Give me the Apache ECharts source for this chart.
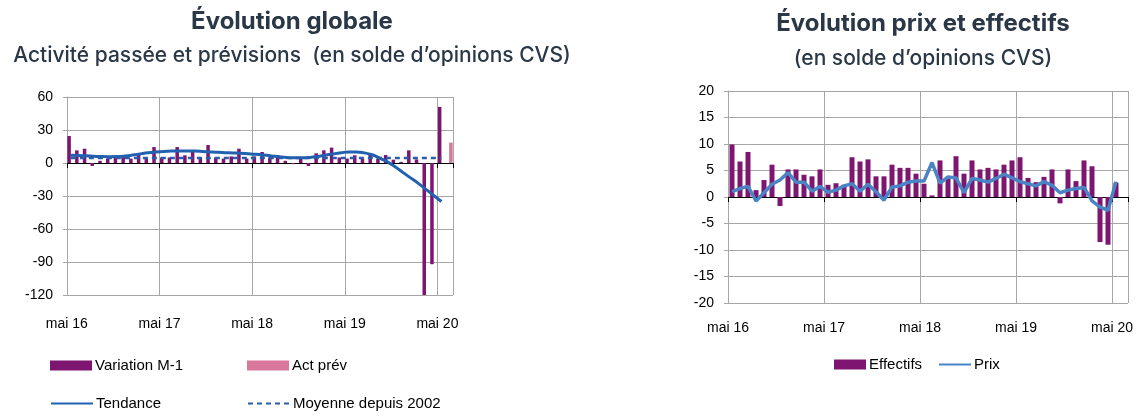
<!DOCTYPE html>
<html>
<head>
<meta charset="utf-8">
<script src="https://cdn.jsdelivr.net/npm/echarts@6/dist/echarts.min.js"></script>
<style>
  html, body { margin: 0; padding: 0; background: #fff; }
  #chart { width: 1140px; height: 416px; }
</style>
</head>
<body>
<div id="chart"></div>
<script>
  // mois de mai 2016 à juin 2020
  const months = [
    'mai 16', 'juin 16', 'juil 16', 'août 16', 'sept 16', 'oct 16', 'nov 16', 'déc 16',
    'janv 17', 'févr 17', 'mars 17', 'avr 17', 'mai 17', 'juin 17', 'juil 17', 'août 17',
    'sept 17', 'oct 17', 'nov 17', 'déc 17', 'janv 18', 'févr 18', 'mars 18', 'avr 18',
    'mai 18', 'juin 18', 'juil 18', 'août 18', 'sept 18', 'oct 18', 'nov 18', 'déc 18',
    'janv 19', 'févr 19', 'mars 19', 'avr 19', 'mai 19', 'juin 19', 'juil 19', 'août 19',
    'sept 19', 'oct 19', 'nov 19', 'déc 19', 'janv 20', 'févr 20', 'mars 20', 'avr 20',
    'mai 20', 'juin 20'
  ]

  // Évolution globale
  const variationM1 = [
    24.5, 11.5, 13, -2.7, 2, 4, 5, 6, 4, 9, 5, 14.5, 5, 5, 14.5, 7, 10, 5, 16.4, 5,
    4, 6, 13, 4, 6, 10, 5, 7.3, 2, -1, 4, -2.7, 8.8, 11.5, 14, 5, 4, 7, 4, 8.8,
    4, 7.3, 3, 1, 11.5, 3.3, -122, -92, 51
  ]
  const actPrevMonth = 'juin 20'
  const actPrevValue = 18.5
  const tendance = [
    7, 6.8, 6.5, 6.1, 5.8, 5.7, 5.8, 6.3, 7.2, 8.3, 9.3, 10, 10.5, 10.8, 10.9, 10.9, 10.8,
    10.5, 10.1, 9.7, 9.4, 9.1, 8.8, 8.4, 7.9, 7.2, 6.4, 5.6, 5, 4.7, 4.7, 5.1, 6, 7.1,
    8.3, 9.3, 10, 10, 9.2, 7.5, 4.5, 1, -3.5, -8.5, -13.5, -18.5, -24, -29.5, -35
  ]
  const moyenne2002 = [
    4.5, 4.5, 4.5, 4.5, 4.5, 4.5, 4.5, 4.5, 4.5, 4.5, 4.5, 4.5, 4.5, 4.5, 4.5, 4.5, 4.5,
    4.5, 4.5, 4.5, 4.5, 4.5, 4.5, 4.5, 4.5, 4.5, 4.5, 4.5, 4.5, 4.5, 4.5, 4.5, 4.5, 4.5,
    4.5, 4.5, 4.5, 4.5, 4.5, 4.5, 4.5, 4.5, 4.5, 4.5, 4.5, 4.5, 4.5, 4.5, 4.5
  ]
  const ticksGlobale = [-120, -90, -60, -30, 0, 30, 60]

  // Évolution prix et effectifs
  const effectifs = [
    9.9, 6.7, 8.5, 1.3, 3.2, 6.1, -1.7, 5.2, 5.2, 4.2, 3.9, 5.2, 2.3, 2.6, 2.3, 7.5, 6.7,
    7.1, 3.9, 3.9, 6.1, 5.5, 5.5, 4.4, 2.5, 0.3, 6.9, 3.5, 7.7, 4.4, 6.9, 5.2, 5.5, 5.2,
    6.1, 6.9, 7.5, 3.6, 2.8, 3.8, 5.2, -1.2, 5.2, 3, 6.9, 5.8, -8.5, -9, 2.7
  ]
  const prix = [
    1, 1.6, 2, -0.75, 0.8, 2.4, 3.2, 4.6, 2.8, 2.8, 1.1, 2, 0.9, 1.3, 2.1, 2.5, 1.1,
    2.4, 1, -0.6, 1.9, 2.1, 2.8, 3, 3, 6.5, 2.6, 3.8, 3.6, 0.8, 3.5, 3.2, 2.8, 3.5,
    4.3, 3.6, 2.9, 2.5, 2.1, 2.9, 2.2, 0.8, 1.3, 1.6, 1.8, -0.75, -1.9, -2.5, 2.9
  ]
  const ticksPrix = [-20, -15, -10, -5, 0, 5, 10, 15, 20]

  const purple = '#7d1571'
  const pink = '#d8779b'
  const gridGray = '#a6a6a6'
  const axisFont = 'Liberation Sans'
  const titleColor = '#2a3747'

  const yearTick = function (i) { return i % 12 === 0 }

  function labelAxis (gridIndex, margin) {
    return {
      gridIndex: gridIndex,
      type: 'category',
      data: months,
      position: 'bottom',
      axisLine: { show: false, onZero: false },
      axisTick: { show: false },
      axisLabel: {
        interval: 11, margin: margin, padding: [0, 8, 0, 0],
        fontFamily: axisFont, fontSize: 14, color: '#000'
      },
      splitLine: { show: true, interval: yearTick, lineStyle: { color: gridGray, width: 1 } }
    }
  }
  function zeroAxis (gridIndex) {
    return {
      gridIndex: gridIndex,
      type: 'category',
      data: months,
      position: 'bottom',
      axisLine: { show: true, onZero: true, lineStyle: { color: '#000', width: 1 } },
      axisTick: { show: true, interval: yearTick, length: 5, lineStyle: { color: '#000' } },
      axisLabel: { show: false },
      splitLine: { show: false }
    }
  }
  function valueAxis (gridIndex, ticks) {
    return {
      gridIndex: gridIndex,
      type: 'value',
      min: ticks[0],
      max: ticks[ticks.length - 1],
      interval: ticks[1] - ticks[0],
      axisLine: { show: true, lineStyle: { color: gridGray } },
      axisTick: { show: true, length: 4, lineStyle: { color: gridGray } },
      axisLabel: { margin: 14, fontFamily: axisFont, fontSize: 14, color: '#000' },
      splitLine: { show: true, lineStyle: { color: gridGray, width: 1 } }
    }
  }
  function legendItem (name, isLine, left, top, width) {
    const item = {
      left: left, top: top, padding: 0,
      itemWidth: width, itemHeight: 10, itemGap: 0,
      data: [name],
      selectedMode: false,
      textStyle: { fontFamily: axisFont, fontSize: 15, color: '#000', padding: [0, 0, 0, -2] }
    }
    if (isLine) {
      // pas de symbole sur les lignes de la légende
      item.itemStyle = { color: 'rgba(0,0,0,0)', borderColor: 'rgba(0,0,0,0)', borderWidth: 0 }
    } else {
      item.icon = 'rect'
    }
    return item
  }

  const myecharts = echarts.init(document.getElementById('chart'))
  const option = {
    animation: false,
    title: [
      {
        text: 'Évolution globale',
        subtext: 'Activité passée et prévisions  (en solde d’opinions CVS)',
        left: 287, top: 5, textAlign: 'center', itemGap: 11,
        textStyle: { fontFamily: 'Inter', fontSize: 24, fontWeight: 'bold', color: titleColor },
        subtextStyle: { fontFamily: 'Inter', fontSize: 21, fontWeight: 500, color: titleColor }
      },
      {
        text: 'Évolution prix et effectifs',
        subtext: '(en solde d’opinions CVS)',
        left: 918, top: 7, textAlign: 'center', itemGap: 12,
        textStyle: { fontFamily: 'Inter', fontSize: 24, fontWeight: 'bold', color: titleColor },
        subtextStyle: { fontFamily: 'Inter', fontSize: 21, fontWeight: 500, color: titleColor }
      }
    ],
    legend: [
      legendItem('Variation M-1', false, 50, 358, 42),
      legendItem('Act prév', false, 247, 358, 42),
      legendItem('Tendance', true, 50, 396, 42),
      legendItem('Moyenne depuis 2002', true, 247, 396, 42),
      legendItem('Effectifs', false, 834, 357, 32),
      legendItem('Prix', true, 938, 357, 32)
    ],
    grid: [
      { left: 67, top: 97, width: 386, height: 198 },
      { left: 728, top: 91, width: 400, height: 212 }
    ],
    xAxis: [labelAxis(0, 22), zeroAxis(0), labelAxis(1, 18), zeroAxis(1)],
    yAxis: [valueAxis(0, ticksGlobale), valueAxis(1, ticksPrix)],
    series: [
      {
        name: 'Variation M-1', type: 'bar', xAxisIndex: 0, yAxisIndex: 0,
        data: variationM1, barWidth: 3.5, barGap: '0%',
        itemStyle: { color: purple }
      },
      {
        name: 'Act prév', type: 'bar', xAxisIndex: 0, yAxisIndex: 0,
        data: [[actPrevMonth, actPrevValue]], barWidth: 3.5,
        itemStyle: { color: pink }
      },
      {
        name: 'Tendance', type: 'line', xAxisIndex: 0, yAxisIndex: 0,
        data: tendance, smooth: true, symbol: 'none',
        lineStyle: { color: '#2261b0', width: 3 }, itemStyle: { color: '#2261b0' }
      },
      {
        name: 'Moyenne depuis 2002', type: 'line', xAxisIndex: 0, yAxisIndex: 0,
        data: moyenne2002, symbol: 'none',
        lineStyle: { color: '#2a5ca8', width: 2.5, type: [5, 4] }, itemStyle: { color: '#2a5ca8' }
      },
      {
        name: 'Effectifs', type: 'bar', xAxisIndex: 2, yAxisIndex: 1,
        data: effectifs, barWidth: 5,
        itemStyle: { color: purple }
      },
      {
        name: 'Prix', type: 'line', xAxisIndex: 2, yAxisIndex: 1,
        data: prix, symbol: 'none',
        lineStyle: { color: '#4a84c4', width: 3.5 }, itemStyle: { color: '#4a84c4' }
      }
    ]
  }
  myecharts.setOption(option)
</script>
</body>
</html>
